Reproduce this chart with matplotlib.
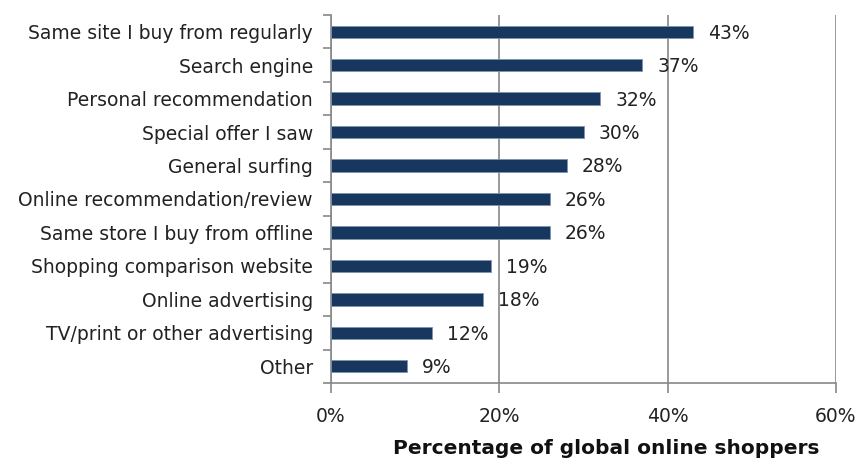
import matplotlib.pyplot as plt
from matplotlib.ticker import FuncFormatter

sources = [
    "Same site I buy from regularly",
    "Search engine",
    "Personal recommendation",
    "Special offer I saw",
    "General surfing",
    "Online recommendation/review",
    "Same store I buy from offline",
    "Shopping comparison website",
    "Online advertising",
    "TV/print or other advertising",
    "Other",
]
shares = [43, 37, 32, 30, 28, 26, 26, 19, 18, 12, 9]

bar_color = "#17375E"
axis_gray = "#888888"
text_color = "#222222"
fs = 13.5

plt.rcParams["font.family"] = "DejaVu Sans"

fig = plt.figure(figsize=(8.61, 4.63), dpi=100)
ax = fig.add_axes([331 / 861, 1 - 383 / 463, (836 - 331) / 861, (383 - 15) / 463])

pos = list(range(len(sources)))
ax.barh(pos, shares, height=0.37, color=bar_color, edgecolor="#7F93AD", linewidth=0.6, zorder=3)

# value labels just past the end of each bar
for p, v in zip(pos, shares):
    ax.annotate(f"{v}%", (v, p), xytext=(11, -1), textcoords="offset points",
                va="center", ha="left", fontsize=fs, color=text_color)

ax.set_xlim(0, 60)
ax.set_ylim(len(sources) - 0.5, -0.5)
ax.set_xticks([0, 20, 40, 60])
ax.xaxis.set_major_formatter(FuncFormatter(lambda x, _: f"{x:.0f}%"))

# tick marks sit between categories, labels at the bar centres
ax.set_yticks([p + 0.5 for p in [-1] + pos])
ax.set_yticklabels([])
ax.set_yticks(pos, minor=True)
ax.set_yticklabels(sources, minor=True, fontsize=fs, color=text_color)
ax.tick_params(axis="y", which="minor", length=0, pad=13)
ax.tick_params(axis="y", which="major", length=6, color=axis_gray, width=1.2)
ax.tick_params(axis="x", length=7, color=axis_gray, width=1.2, pad=10, labelsize=fs, labelcolor=text_color)

ax.grid(axis="x", color=axis_gray, linewidth=1.2, zorder=0)
for side in ["top", "right"]:
    ax.spines[side].set_visible(False)
for side in ["left", "bottom"]:
    ax.spines[side].set_color(axis_gray)
    ax.spines[side].set_linewidth(1.2)

ax.set_xlabel("Percentage of global online shoppers", fontsize=14.5, fontweight="bold", color="#111111")
ax.xaxis.set_label_coords((606 - 331) / 505, -(449 - 383) / 368)
ax.xaxis.label.set_va("center")

fig.savefig("out.png", dpi=100)
